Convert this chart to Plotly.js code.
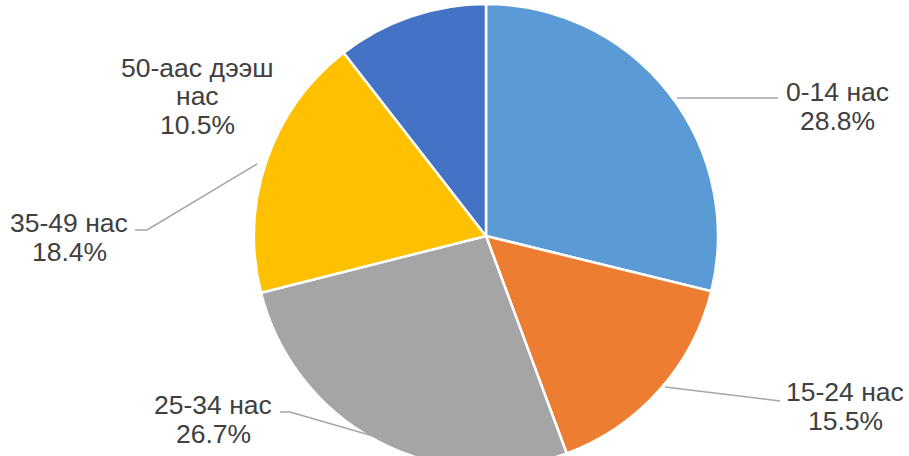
<!DOCTYPE html>
<html>
<head>
<meta charset="utf-8">
<script src="https://cdn.plot.ly/plotly-3.0.1.min.js"></script>
<style>
html,body{margin:0;padding:0;overflow:hidden;background:#fff;}
#chart{width:909px;height:472px;}
</style>
</head>
<body>
<div id="chart"></div>
<script>
// Data
const categories = ['0-14 нас', '15-24 нас', '25-34 нас', '35-49 нас', '50-аас дээш нас'];
const labelLines = [['0-14 нас'], ['15-24 нас'], ['25-34 нас'], ['35-49 нас'], ['50-аас дээш', 'нас']];
const shares = [28.8, 15.5, 26.7, 18.4, 10.5];
const colors = ['#5B9BD5', '#ED7D31', '#A5A5A5', '#FFC000', '#4472C4'];

// Layout geometry (pixels)
const W = 909, H = 472;
const cx = 486, cy = 236, R = 232;
const fx = p => p / W;
const fy = p => (H - p) / H;

// label placement: centre x, first line centre y
const labelPos = [
  {x: 837, y: 92},
  {x: 845, y: 392},
  {x: 213, y: 405},
  {x: 69,  y: 223},
  {x: 197, y: 68}
];
const leaders = [
  [[677, 98], [778, 98]],
  [[665, 387], [780, 401]],
  [[280, 412], [290, 412], [373, 436]],
  [[135, 230], [147, 230], [257, 164]],
  null
];

const lineGap = 28.5;
const annotations = [];
categories.forEach((c, i) => {
  const lines = labelLines[i].concat([shares[i].toFixed(1) + '%']);
  lines.forEach((t, k) => {
    annotations.push({
      xref: 'paper', yref: 'paper',
      x: fx(labelPos[i].x), y: fy(labelPos[i].y + k * lineGap),
      xanchor: 'center', yanchor: 'middle',
      text: t, showarrow: false,
      font: {family: 'Liberation Sans, Arial, sans-serif', size: 26.5, color: '#404040'}
    });
  });
});

const shapes = [];
leaders.forEach(l => {
  if (!l) return;
  const d = l.map((p, j) => (j ? 'L' : 'M') + fx(p[0]) + ',' + fy(p[1])).join(' ');
  shapes.push({type: 'path', xref: 'paper', yref: 'paper', path: d,
    line: {color: '#A6A6A6', width: 1.5}});
});

const trace = {
  type: 'pie',
  labels: categories,
  values: shares,
  sort: false,
  direction: 'clockwise',
  rotation: 0,
  textinfo: 'none',
  hoverinfo: 'label+percent',
  marker: {colors: colors, line: {color: '#FFFFFF', width: 2.5}},
  domain: {x: [fx(cx - R), fx(cx + R)], y: [fy(cy + R), fy(cy - R)]},
  showlegend: false
};

const layout = {
  width: W, height: H,
  margin: {l: 0, r: 0, t: 0, b: 0},
  paper_bgcolor: '#FFFFFF',
  showlegend: false,
  annotations: annotations,
  shapes: shapes
};

Plotly.newPlot('chart', [trace], layout, {displayModeBar: false, staticPlot: true});
</script>
</body>
</html>
